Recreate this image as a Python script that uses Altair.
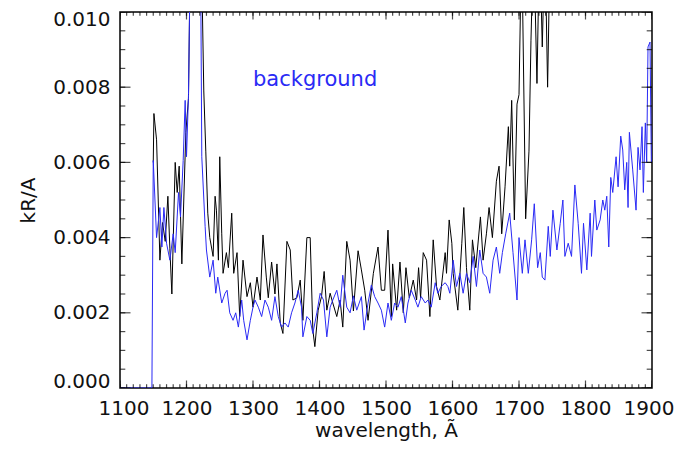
import altair as alt
import pandas as pd

UNIT = 1e-3  # values below are in units of 0.001 kR/A

black_wl = [1150, 1151, 1155, 1160, 1164, 1168, 1172, 1175, 1178, 1183, 1186, 1189, 1193, 1199, 1203,
            1206, 1215, 1222, 1226, 1229, 1232, 1235, 1240, 1243, 1245, 1248, 1250, 1253, 1255, 1260,
            1263, 1268, 1271, 1276, 1280, 1285, 1291, 1296, 1300, 1306, 1311, 1315, 1320, 1323, 1328,
            1333, 1336, 1341, 1345, 1351, 1356, 1360, 1366, 1371, 1375, 1381, 1386, 1390, 1393, 1398,
            1403, 1407, 1411, 1416, 1420, 1426, 1431, 1435, 1441, 1446, 1451, 1458, 1463, 1468, 1473,
            1481, 1488, 1493, 1498, 1503, 1508, 1510, 1516, 1521, 1526, 1530, 1535, 1541, 1546, 1549,
            1552, 1556, 1561, 1566, 1571, 1576, 1581, 1589, 1591, 1595, 1599, 1601, 1608, 1614, 1617,
            1621, 1626, 1630, 1635, 1642, 1646, 1651, 1655, 1660, 1666, 1670, 1674, 1679, 1684, 1686,
            1689, 1693, 1697, 1700, 1704, 1710, 1715, 1718, 1722, 1727, 1731, 1735, 1739, 1743, 1747]
black_val = [6.0, 7.3, 6.6, 3.4, 4.4, 3.9, 5.1, 3.7, 2.5, 6.0, 5.2, 5.9, 3.3, 6.8, 7.7,
             12.0, 14.0, 12.0, 7.9, 6.3, 4.65, 4.0, 3.5, 5.1, 4.73, 3.4, 6.15, 4.1, 3.05, 3.6,
             3.2, 4.65, 3.05, 3.6, 1.9, 3.4, 2.43, 2.8, 2.15, 2.95, 2.34, 4.07, 2.95, 2.4, 3.35,
             2.5, 3.3, 1.73, 1.45, 3.9, 3.67, 2.34, 2.4, 2.87, 1.8, 4.0, 4.0, 1.54, 1.1, 2.07,
             2.43, 3.1, 2.07, 2.52, 2.26, 1.9, 2.34, 1.62, 3.9, 3.4, 2.05, 3.65, 3.14, 2.6, 1.8,
             3.05, 3.75, 2.6, 2.6, 4.2, 1.9, 3.3, 2.07, 3.35, 2.0, 3.2, 2.4, 2.87, 2.34, 3.2,
             2.4, 3.6, 3.4, 1.9, 3.94, 2.7, 2.34, 3.6, 3.05, 4.47, 3.85, 3.05, 2.07, 3.85, 4.8,
             3.2, 2.07, 3.94, 3.2, 4.55, 3.4, 4.1, 4.8, 4.0, 5.5, 5.9, 4.1, 5.35, 6.95, 5.9,
             7.65, 4.47, 7.55, 7.8, 12.0, 4.5, 6.3, 9.25, 12.0, 8.1, 12.0, 9.07, 12.0, 8.0, 12.0]

blue_wl = [1100, 1148, 1150, 1155, 1160, 1163, 1166, 1170, 1175, 1180, 1183, 1188, 1191, 1195, 1198,
           1200, 1203, 1206, 1214, 1221, 1223, 1228, 1230, 1235, 1240, 1244, 1247, 1253, 1258, 1261,
           1265, 1270, 1274, 1278, 1283, 1286, 1291, 1296, 1300, 1303, 1308, 1313, 1318, 1323, 1328,
           1333, 1338, 1343, 1348, 1353, 1358, 1363, 1368, 1373, 1375, 1381, 1386, 1390, 1396, 1401,
           1406, 1411, 1416, 1420, 1426, 1431, 1435, 1441, 1446, 1451, 1456, 1463, 1467, 1473, 1478,
           1483, 1488, 1493, 1498, 1503, 1508, 1513, 1518, 1523, 1529, 1533, 1538, 1544, 1548, 1553,
           1559, 1563, 1568, 1574, 1578, 1583, 1589, 1593, 1596, 1601, 1606, 1611, 1616, 1621, 1626,
           1631, 1636, 1641, 1646, 1651, 1656, 1661, 1666, 1671, 1675, 1680, 1686, 1691, 1697, 1700,
           1705, 1709, 1714, 1719, 1723, 1728, 1732, 1735, 1739, 1744, 1747, 1751, 1757, 1762, 1766,
           1769, 1774, 1779, 1784, 1789, 1794, 1797, 1802, 1807, 1809, 1814, 1817, 1822, 1826, 1829,
           1832, 1835, 1838, 1841, 1846, 1849, 1853, 1856, 1859, 1862, 1864, 1866, 1871, 1876, 1879,
           1882, 1885, 1887, 1890, 1892, 1894, 1897, 1899]
blue_val = [0.0, 0.0, 6.05, 4.0, 4.8, 3.75, 4.8, 3.85, 3.4, 4.1, 3.6, 5.2, 4.55, 6.05, 7.65,
            6.15, 7.8, 12.0, 14.0, 12.0, 6.15, 4.3, 3.67, 2.95, 3.4, 2.52, 2.95, 2.26, 2.52, 2.6,
            2.0, 1.8, 2.0, 1.62, 2.34, 1.8, 1.28, 1.8, 2.15, 2.34, 2.15, 1.9, 2.34, 2.15, 1.8,
            2.43, 1.9, 1.62, 1.73, 1.62, 2.0, 2.26, 2.6, 2.15, 1.36, 1.9, 1.8, 1.45, 2.0, 2.52,
            2.34, 1.36, 2.15, 2.34, 2.6, 2.15, 3.0, 2.15, 2.0, 2.45, 2.07, 2.43, 1.54, 2.26, 2.74,
            2.43, 2.26, 2.07, 1.62, 2.26, 1.8, 2.26, 2.15, 2.43, 1.73, 2.26, 2.6, 2.34, 2.15, 2.43,
            2.26, 2.34, 2.15, 2.8, 2.52, 2.7, 2.8, 2.7, 2.52, 3.4, 2.7, 3.05, 2.52, 3.05, 2.8,
            3.5, 2.7, 3.67, 3.05, 2.95, 2.52, 3.4, 3.75, 3.05, 3.6, 4.1, 4.65, 3.6, 2.34, 4.0,
            3.05, 3.94, 3.05, 3.94, 4.9, 3.2, 3.6, 2.95, 2.87, 4.3, 3.5, 4.73, 3.67, 4.38, 5.0,
            3.5, 3.85, 3.5, 5.4, 4.38, 3.05, 4.38, 3.14, 4.65, 3.5, 5.0, 4.2, 4.47, 5.0, 4.73,
            5.1, 3.75, 5.6, 5.2, 6.15, 5.35, 6.7, 6.33, 5.27, 6.0, 4.8, 6.8, 5.8, 4.73, 6.4,
            5.8, 6.95, 5.2, 7.05, 6.0, 9.07, 9.2, 6.0]

label_text = ["background"]
label_wl = [1300]
label_val = [8.2]

x_range = [1100, 1900]
y_range = [0.0, 0.010]
x_major = [1100, 1200, 1300, 1400, 1500, 1600, 1700, 1800, 1900]
x_minor = list(range(1100, 1901, 10))
y_major = [0.0, 0.002, 0.004, 0.006, 0.008, 0.010]
y_minor = [0.0, 0.0005, 0.001, 0.0015, 0.002, 0.0025, 0.003, 0.0035, 0.004, 0.0045, 0.005,
           0.0055, 0.006, 0.0065, 0.007, 0.0075, 0.008, 0.0085, 0.009, 0.0095, 0.010]

black_df = pd.DataFrame({"wl": black_wl, "v": [b * UNIT for b in black_val]})
blue_df = pd.DataFrame({"wl": blue_wl, "v": [b * UNIT for b in blue_val]})
text_df = pd.DataFrame({"wl": label_wl, "v": [b * UNIT for b in label_val], "t": label_text})

W, H = 532, 376
FONT = "DejaVu Sans"
BLUE = "#2a2af5"
xs = alt.Scale(domain=x_range, nice=False, zero=False)
ys = alt.Scale(domain=y_range, nice=False)

x_lab = alt.Axis(orient="bottom", values=x_major, format="d", ticks=False, domain=False, grid=False,
                 labelPadding=10, labelFontSize=20, labelFont=FONT, labelColor="#111",
                 labelFlush=True, labelFlushOffset=22, labelOverlap=False,
                 title="wavelength, Ã", titleFont=FONT, titleFontSize=20, titleFontWeight="normal",
                 titleColor="#111", titlePadding=2)
y_lab = alt.Axis(orient="left", values=y_major, format=".3f", ticks=False, domain=False, grid=False,
                 labelPadding=10, labelFontSize=20, labelFont=FONT, labelColor="#111",
                 labelFlush=True, labelFlushOffset=3, labelOverlap=False,
                 title="kR/A", titleFont=FONT, titleFontSize=20, titleFontWeight="normal",
                 titleColor="#111", titlePadding=14)

black = alt.Chart(black_df).mark_line(color="#000", strokeWidth=1, clip=True).encode(
    x=alt.X("wl:Q", scale=xs, axis=x_lab),
    y=alt.Y("v:Q", scale=ys, axis=y_lab),
)
blue = alt.Chart(blue_df).mark_line(color=BLUE, strokeWidth=1, clip=True).encode(
    x=alt.X("wl:Q", scale=xs, axis=None),
    y=alt.Y("v:Q", scale=ys, axis=None),
)
text = alt.Chart(text_df).mark_text(align="left", baseline="middle", color=BLUE, fontSize=21,
                                    font=FONT).encode(
    x=alt.X("wl:Q", scale=xs, axis=None),
    y=alt.Y("v:Q", scale=ys, axis=None),
    text="t:N",
)


def xticks(values, length):
    # ticks sit on the bottom and top edges; the outer half is clipped by the plot frame
    df = pd.DataFrame({"wl": values * 2, "v": [y_range[0]] * len(values) + [y_range[1]] * len(values)})
    return alt.Chart(df).mark_tick(orient="vertical", color="#000", size=2 * length,
                                   thickness=1.2, clip=True).encode(
        x=alt.X("wl:Q", scale=xs, axis=None), y=alt.Y("v:Q", scale=ys, axis=None))


def yticks(values, length):
    df = pd.DataFrame({"wl": [x_range[0]] * len(values) + [x_range[1]] * len(values), "v": values * 2})
    return alt.Chart(df).mark_tick(orient="horizontal", color="#000", size=2 * length,
                                   thickness=1.2, clip=True).encode(
        x=alt.X("wl:Q", scale=xs, axis=None), y=alt.Y("v:Q", scale=ys, axis=None))


ticks = [xticks(x_major, 7.5), xticks(x_minor, 3.8), yticks(y_major, 10.5), yticks(y_minor, 5.3)]

chart = alt.layer(black, blue, text, *ticks).resolve_scale(
    x="shared", y="shared"
).resolve_axis(
    x="independent", y="independent"
).properties(
    width=W, height=H,
    autosize=alt.AutoSizeParams(type="none"),
    padding={"left": 112, "top": 4, "right": 22, "bottom": 57},
).configure_view(stroke="#000", strokeWidth=1.5)

chart.save("out.html", embed_options={"renderer": "svg", "actions": False})
